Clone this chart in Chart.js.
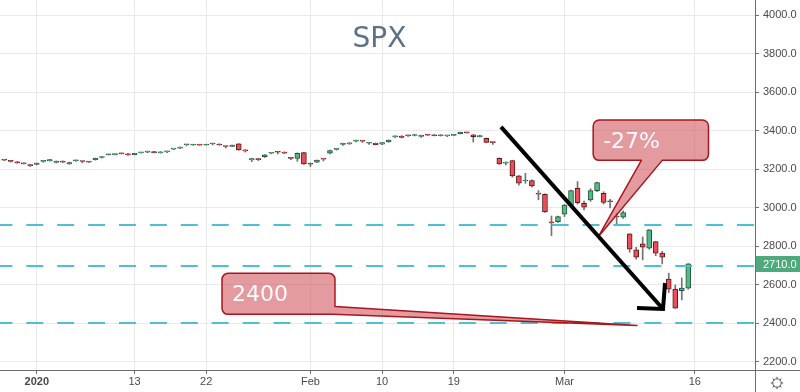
<!DOCTYPE html>
<html>
<head>
<meta charset="utf-8">
<script src="https://cdn.jsdelivr.net/npm/chart.js@4.4.1/dist/chart.umd.min.js"></script>
<style>
html,body{margin:0;padding:0;background:#fff;}
#wrap{width:800px;height:392px;position:relative;}
</style>
</head>
<body>
<div id="wrap"><canvas id="c" width="800" height="392"></canvas></div>
<script>
// ---- DATA (4h sessions, two per trading day, Dec 27 2019 .. Mar 13 2020) ----
const tradingDays = ['Dec 27','Dec 30','Dec 31','Jan 2','Jan 3','Jan 6','Jan 7','Jan 8','Jan 9','Jan 10',
  'Jan 13','Jan 14','Jan 15','Jan 16','Jan 17','Jan 21','Jan 22','Jan 23','Jan 24','Jan 27','Jan 28','Jan 29',
  'Jan 30','Jan 31','Feb 3','Feb 4','Feb 5','Feb 6','Feb 7','Feb 10','Feb 11','Feb 12','Feb 13','Feb 14',
  'Feb 18','Feb 19','Feb 20','Feb 21','Feb 24','Feb 25','Feb 26','Feb 27','Feb 28','Mar 2','Mar 3','Mar 4',
  'Mar 5','Mar 6','Mar 9','Mar 10','Mar 11','Mar 12','Mar 13'];
const categories = tradingDays.flatMap(d => [d + ' AM', d + ' PM']);

const opens = [3249,3243,3240,3231,3221,3226,3242,3244,3236,3243,3228,3245,3242,3240,3250,3262,3276,3277,3283,3281,
  3277,3286,3289,3292,3286,3291,3305,3310,3328,3327,3327,3327,3332,3331,3320,3320,3333,3297,3249,3256,
  3266,3284,3290,3290,3258,3257,3287,3230,3238,3254,3284,3304,3330,3332,3347,3348,3336,3336,3331,3343,
  3369,3373,3375,3376,3372,3380,3380,3375,3374,3377,3386,3391,3380,3370,3362,3340,3258,3233,3246,3166,
  3140,3142,3073,3071,2924,2929,2968,3015,3102,3024,3042,3090,3076,3033,2955,2952,2865,2782,2813,2791,
  2825,2765,2630,2578,2570,2583];
const highs = [3251,3247,3241,3234,3226,3234,3247,3252,3244,3244,3238,3248,3243,3242,3259,3267,3279,3280,3285,3283,
  3284,3289,3296,3294,3292,3295,3308,3317,3330,3329,3329,3330,3337,3333,3321,3327,3334,3302,3258,3257,
  3277,3286,3292,3291,3262,3286,3289,3234,3249,3255,3300,3307,3337,3340,3352,3350,3341,3338,3340,3353,
  3375,3375,3378,3382,3378,3382,3381,3381,3377,3380,3394,3393,3382,3378,3363,3342,3260,3240,3248,3168,
  3180,3146,3090,3073,2958,2958,3018,3092,3137,3035,3100,3134,3084,3045,2972,2985,2866,2795,2849,2888,
  2826,2775,2661,2600,2636,2711];
const lows = [3246,3238,3232,3228,3215,3224,3237,3243,3233,3236,3226,3242,3234,3236,3248,3258,3274,3275,3280,3273,
  3275,3284,3287,3285,3284,3287,3303,3308,3322,3325,3325,3325,3327,3325,3311,3318,3299,3290,3240,3246,
  3262,3281,3280,3282,3250,3242,3226,3214,3235,3244,3280,3300,3325,3330,3343,3340,3330,3327,3329,3341,
  3365,3364,3372,3374,3366,3376,3374,3373,3370,3375,3384,3388,3342,3368,3338,3330,3226,3223,3160,3118,
  3128,3108,3042,2977,2856,2925,2955,3005,3020,2990,3034,3085,3020,3000,2918,2945,2770,2734,2730,2785,
  2752,2709,2560,2478,2522,2578];
const closes = [3248,3242,3234,3229,3220,3233,3243,3251,3243,3238,3236,3247,3241,3238,3258,3263,3278,3277.5,3281,3275,
  3283,3288,3295,3287,3291,3291.5,3307,3316,3328.5,3327.5,3326.5,3328,3332.5,3327,3319,3326,3301,3296,3256,3250,
  3276,3285,3289,3284,3257,3284,3229,3227,3248,3253,3298,3305,3331,3338,3348,3347,3337,3329,3339,3352,
  3370,3366,3374,3381,3377,3378,3375,3380,3374.5,3379,3392,3390,3370,3376,3340,3339,3229,3235,3166,3128,
  3141,3114,3072,2979,2922,2955,3015,3090,3027,3004,3090,3131,3028,3032,2953,2976,2786,2744,2796,2886,
  2765,2744,2578,2479,2583,2710];

const xTickIndex = [5, 20, 31, 47, 58, 69, 86, 106];
const xTickLabels = ['2020', '13', '22', 'Feb', '10', '19', 'Mar', '16'];
const yTicks = [2200, 2400, 2600, 2800, 3000, 3200, 3400, 3600, 3800, 4000];
const levelLines = [2910, 2700, 2400];
const titleText = 'SPX';

// annotations in data coordinates (session index, price)
const trendArrow = { from: [76.25, 3421], tip: [101.12, 2475], headA: [97.13, 2480.5], headB: [101.43, 2610] };
const callouts = [
  { text: '-27%', x0: 90.4, x1: 108.1, yTop: 3457, yBot: 3247, baseX: [97.8, 101.0], tip: [91.22, 2852], side: 'bottom' },
  { text: '2400', x0: 33.43, x1: 50.77, yTop: 2660, yBot: 2447, baseY: 2488, tip: [97.13, 2389], side: 'right' }
];

// ---- STYLE ----
const UP = '#53b987', DOWN = '#eb4d5c', UP_B = '#225437', DOWN_B = '#5b1a13', WICK = '#737375';
const AXIS_FONT = 'Liberation Sans, Arial, sans-serif';

const isUp = i => closes[i] >= opens[i];
const bodyData = categories.map((c, i) => ({ x: i, y: [Math.min(opens[i], closes[i]), Math.max(opens[i], closes[i])] }));
const wickData = categories.map((c, i) => ({ x: i, y: [lows[i], highs[i]] }));

const overlay = {
  id: 'overlay',
  beforeDatasetsDraw(chart) {
    const { ctx, chartArea: a } = chart;
    ctx.save();
    ctx.beginPath(); ctx.rect(a.left, a.top, a.right - a.left, a.bottom - a.top); ctx.clip();
    ctx.fillStyle = '#5d7286';
    ctx.font = '28px "DejaVu Sans", sans-serif';
    ctx.textAlign = 'center'; ctx.textBaseline = 'alphabetic';
    ctx.fillText(titleText, 379.5, 46.5);
    ctx.restore();
  },
  afterDatasetsDraw(chart) {
    const { ctx, chartArea: a, scales: { x, y } } = chart;
    const P = p => [x.getPixelForValue(p[0]), y.getPixelForValue(p[1])];
    ctx.save();
    ctx.beginPath(); ctx.rect(a.left, a.top, a.right - a.left, a.bottom - a.top); ctx.clip();
    // horizontal dashed levels
    ctx.strokeStyle = '#4fc0d4';
    ctx.lineWidth = 2;
    ctx.setLineDash([17, 13.9]);
    levelLines.forEach(v => {
      const py = Math.round(y.getPixelForValue(v));
      ctx.beginPath(); ctx.moveTo(-4.6, py); ctx.lineTo(a.right, py); ctx.stroke();
    });
    ctx.setLineDash([]);
    // callouts
    callouts.forEach(c => {
      const l = x.getPixelForValue(c.x0), r = x.getPixelForValue(c.x1);
      const t = y.getPixelForValue(c.yTop), b = y.getPixelForValue(c.yBot);
      const [tx, ty] = P(c.tip);
      const rad = 6;
      ctx.beginPath();
      ctx.moveTo(l + rad, t);
      ctx.lineTo(r - rad, t);
      ctx.arcTo(r, t, r, t + rad, rad);
      if (c.side === 'right') {
        const by = y.getPixelForValue(c.baseY);
        ctx.lineTo(r, by);
        ctx.lineTo(tx, ty);
        ctx.lineTo(r - 2, b);
        ctx.lineTo(l + rad, b);
      } else {
        ctx.lineTo(r, b - rad);
        ctx.arcTo(r, b, r - rad, b, rad);
        ctx.lineTo(x.getPixelForValue(c.baseX[1]), b);
        ctx.lineTo(tx, ty);
        ctx.lineTo(x.getPixelForValue(c.baseX[0]), b);
        ctx.lineTo(l + rad, b);
      }
      ctx.arcTo(l, b, l, b - rad, rad);
      ctx.lineTo(l, t + rad);
      ctx.arcTo(l, t, l + rad, t, rad);
      ctx.closePath();
      ctx.fillStyle = 'rgba(206, 72, 82, 0.55)';
      ctx.fill();
      ctx.strokeStyle = '#a8161e';
      ctx.lineWidth = 1.5;
      ctx.lineJoin = 'round';
      ctx.stroke();
      ctx.fillStyle = 'rgba(255,255,255,0.95)';
      ctx.font = '22px "DejaVu Sans", sans-serif';
      ctx.textAlign = 'left'; ctx.textBaseline = 'alphabetic';
      ctx.fillText(c.text, l + 10, (t + b) / 2 + 7.5);
    });
    // trend arrow
    ctx.strokeStyle = '#000';
    ctx.lineWidth = 4;
    ctx.lineCap = 'butt';
    ctx.lineJoin = 'miter';
    const f = P(trendArrow.from), tp = P(trendArrow.tip), ha = P(trendArrow.headA), hb = P(trendArrow.headB);
    ctx.beginPath(); ctx.moveTo(f[0], f[1]); ctx.lineTo(tp[0], tp[1]); ctx.stroke();
    ctx.beginPath(); ctx.moveTo(ha[0], ha[1]); ctx.lineTo(tp[0], tp[1]); ctx.lineTo(hb[0], hb[1]); ctx.stroke();
    ctx.restore();
  },
  afterDraw(chart) {
    const { ctx, chartArea: a, scales: { y } } = chart;
    ctx.save();
    ctx.strokeStyle = '#6e6e6e';
    ctx.lineWidth = 1;
    ctx.beginPath(); ctx.moveTo(a.right + 0.5, 0); ctx.lineTo(a.right + 0.5, chart.height); ctx.stroke();
    ctx.beginPath(); ctx.moveTo(0, a.bottom + 0.5); ctx.lineTo(chart.width, a.bottom + 0.5); ctx.stroke();
    // last price label
    const li = closes.length - 1;
    const last = closes[li];
    const py = Math.round(y.getPixelForValue(last));
    ctx.fillStyle = isUp(li) ? '#4ea97c' : DOWN;
    ctx.fillRect(a.right + 1, py - 8, chart.width - a.right - 1, 16);
    ctx.fillStyle = '#fff';
    ctx.font = '11px ' + AXIS_FONT;
    ctx.textAlign = 'left'; ctx.textBaseline = 'middle';
    ctx.fillText(last.toFixed(1), a.right + 8, py + 0.5);
    // settings gear
    const gx = 777, gy = 383;
    ctx.strokeStyle = '#555';
    ctx.lineWidth = 1;
    ctx.beginPath(); ctx.arc(gx, gy, 4.2, 0, Math.PI * 2); ctx.stroke();
    for (let k = 0; k < 8; k++) {
      const ang = k * Math.PI / 4;
      ctx.beginPath();
      ctx.moveTo(gx + Math.cos(ang) * 4.2, gy + Math.sin(ang) * 4.2);
      ctx.lineTo(gx + Math.cos(ang) * 6.2, gy + Math.sin(ang) * 6.2);
      ctx.stroke();
    }
    ctx.restore();
  }
};

new Chart(document.getElementById('c'), {
  type: 'bar',
  data: {
    datasets: [
      {
        label: 'body', data: bodyData, grouped: false, barThickness: 5, minBarLength: 1,
        backgroundColor: ctx => isUp(ctx.dataIndex) ? UP : DOWN,
        borderColor: ctx => isUp(ctx.dataIndex) ? UP_B : DOWN_B,
        borderWidth: 1, borderSkipped: false
      },
      {
        label: 'wick', data: wickData, grouped: false, barThickness: 1, minBarLength: 1,
        backgroundColor: WICK, borderWidth: 0
      }
    ]
  },
  options: {
    responsive: false,
    animation: false,
    events: [],
    layout: { padding: 0 },
    plugins: { legend: { display: false }, tooltip: { enabled: false }, title: { display: false } },
    scales: {
      x: {
        type: 'linear',
        offset: false,
        bounds: 'ticks',
        min: -0.645, max: 115.24,
        afterBuildTicks: s => { s.ticks = xTickIndex.map(v => ({ value: v })); },
        afterFit: s => { s.height = 22; s.paddingLeft = 0; s.paddingRight = 0; },
        grid: { offset: false, color: '#e9e9ea', lineWidth: 1, drawTicks: true, tickLength: 4, tickColor: '#6e6e6e' },
        border: { display: false },
        ticks: {
          autoSkip: false, maxRotation: 0, padding: 1, color: '#4a4a4a',
          callback: (v) => xTickLabels[xTickIndex.indexOf(v)],
          font: ctx => ({ family: AXIS_FONT, size: 11, weight: (ctx.tick && ctx.tick.label === '2020') ? 'bold' : 'normal' })
        }
      },
      y: {
        type: 'linear', position: 'right',
        min: 2158, max: 4080,
        afterBuildTicks: s => { s.ticks = yTicks.map(v => ({ value: v })); },
        afterFit: s => { s.width = 45; s.paddingTop = 0; s.paddingBottom = 0; },
        grid: { color: '#e9e9ea', lineWidth: 1, drawTicks: true, tickLength: 4, tickColor: '#6e6e6e' },
        border: { display: false },
        ticks: {
          padding: 4, color: '#4a4a4a',
          font: { family: AXIS_FONT, size: 11 },
          callback: v => Number(v).toFixed(1)
        }
      }
    }
  },
  plugins: [overlay]
});
</script>
</body>
</html>
